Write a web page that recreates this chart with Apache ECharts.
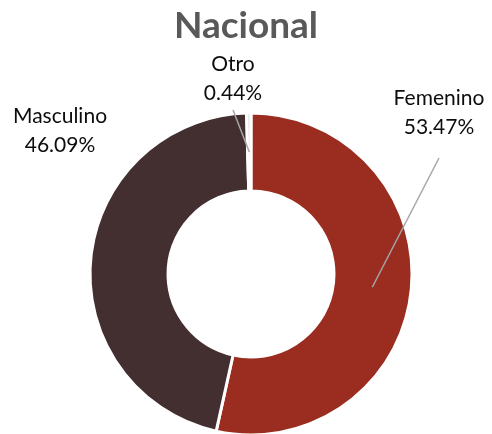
<!DOCTYPE html>
<html>
<head>
<meta charset="utf-8">
<script src="https://cdn.jsdelivr.net/npm/echarts@6/dist/echarts.min.js"></script>
<style>
  html, body { margin: 0; padding: 0; background: #fff; }
  #main { width: 492px; height: 434px; }
</style>
</head>
<body>
<div id="main"></div>
<script>
// categorias y porcentajes
var categories = ['Femenino', 'Masculino', 'Otro'];
var values = [53.47, 46.09, 0.44];
var colors = ['#9b2d20', '#432e30', '#e3e3e3'];

// geometria del anillo (px)
var cx = 251, cy = 274, rIn = 83, rOut = 161;
// donde van las etiquetas (centro del texto) y donde termina la linea guia
var labelPos = [[439, 113], [60, 131], [233, 79]];
var lineEnd = [[439, 158], null, [233, 110]];

var total = values.reduce(function (a, b) { return a + b; }, 0);

// punto medio de cada porcion, en el centro del anillo
function midPoint(i) {
    var acc = 0;
    for (var k = 0; k < i; k++) acc += values[k];
    var ang = (acc + values[i] / 2) / total * 2 * Math.PI; // desde arriba, horario
    var r = (rIn + rOut) / 2;
    return [cx + r * Math.sin(ang), cy - r * Math.cos(ang)];
}

// lineas guia encima del anillo (como en Excel)
var guides = [];
for (var i = 0; i < categories.length; i++) {
    if (!lineEnd[i]) continue;
    guides.push({
        type: 'polyline',
        z: 100,
        shape: { points: [midPoint(i), lineEnd[i]] },
        style: { stroke: '#a6a6a6', lineWidth: 1.5, fill: null }
    });
}

var chart = echarts.init(document.getElementById('main'));

var option = {
    animation: false,
    title: {
        text: 'Nacional',
        left: 'center',
        top: 3,
        textStyle: {
            fontFamily: 'Lato',
            fontSize: 37,
            fontWeight: 'bold',
            color: '#595959'
        }
    },
    graphic: guides,
    series: [{
        type: 'pie',
        center: [cx, cy],
        radius: [rIn, rOut],
        startAngle: 90,
        clockwise: true,
        itemStyle: { borderColor: '#fff', borderWidth: 3 },
        label: {
            show: true,
            position: 'outside',
            fontFamily: 'Lato',
            fontSize: 21,
            lineHeight: 29,
            color: '#0d0d0d',
            align: 'center',
            overflow: 'none',
            formatter: function (p) {
                return p.name + '\n' + p.value.toFixed(2) + '%';
            }
        },
        labelLine: { show: false },
        labelLayout: function (params) {
            var i = params.dataIndex;
            return {
                x: labelPos[i][0],
                y: labelPos[i][1],
                align: 'center',
                verticalAlign: 'middle'
            };
        },
        data: categories.map(function (c, i) {
            return {
                name: c,
                value: values[i],
                itemStyle: { color: colors[i] }
            };
        })
    }]
};

chart.setOption(option);
</script>
</body>
</html>
